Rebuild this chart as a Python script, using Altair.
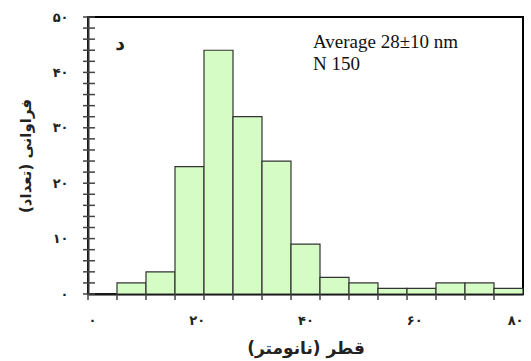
import altair as alt
import pandas as pd

# ---- data ----
bin_index = list(range(1, 16))
counts = [0, 2, 4, 23, 44, 32, 24, 9, 3, 2, 1, 1, 2, 2, 1]
x_tick_values = [0, 20, 40, 60, 80]
x_tick_labels = ["۰", "۲۰", "۴۰", "۶۰", "۸۰"]
y_major_values = [0, 10, 20, 30, 40, 50]
y_major_labels = ["۰", "۱۰", "۲۰", "۳۰", "۴۰", "۵۰"]
y_minor_values = list(range(0, 51, 2))
x_title = "قطر (نانومتر)"
y_title = "فراوانی (تعداد)"
panel_letter = "د"
stats_line1 = "Average 28±10 nm"
stats_line2 = "N 150"

FA_FONT = "DejaVu Sans"
W, H = 435, 277
TICK_COLOR = "#444444"


def label_expr(values, labels):
    expr = "''"
    for v, l in reversed(list(zip(values, labels))):
        expr = f"datum.value == {v} ? '{l}' : ({expr})"
    return expr


bars_df = pd.DataFrame({"bin": bin_index, "count": counts})
xlab_df = pd.DataFrame({"d": x_tick_values})
ytick_df = pd.DataFrame({"v": y_minor_values})

y_scale = alt.Scale(domain=[0, 50], nice=False, zero=True)
band_scale = alt.Scale(type="band", paddingInner=0, paddingOuter=0)


def make_y_axis():
    return alt.Axis(
        orient="left", values=y_major_values,
        labelExpr=label_expr(y_major_values, y_major_labels),
        ticks=False, labelPadding=20, labelFont=FA_FONT,
        labelFontSize=13, labelFontWeight="bold", labelColor="#222222",
        domainColor="#333333", domainWidth=2, grid=False,
        title=y_title, titleX=-63, titleY=H / 2, titleAngle=-90,
        titleAlign="center", titleBaseline="middle",
        titleFont=FA_FONT, titleFontSize=15, titleFontWeight="bold",
        titleColor="#222222",
    )


bars = alt.Chart(bars_df).mark_bar(
    fill="#d4fcc4", stroke="#333333", strokeWidth=1.2
).encode(
    x=alt.X(
        "bin:O",
        scale=band_scale,
        axis=alt.Axis(
            orient="bottom", labels=False, ticks=False, title=None,
            domainColor="black", domainWidth=2, grid=False,
        ),
    ),
    y=alt.Y("count:Q", scale=y_scale, axis=make_y_axis()),
)

# axis tick marks crossing the y axis (every 2 units)
yticks = alt.Chart(ytick_df).mark_rule(color=TICK_COLOR, strokeWidth=1.5).encode(
    y=alt.Y("v:Q", scale=y_scale, axis=make_y_axis()),
    x=alt.value(-5),
    x2=alt.value(7),
)

# tick marks below the x axis at the bin edges
xticks = alt.Chart(bars_df).mark_rule(color=TICK_COLOR, strokeWidth=1.5).encode(
    x=alt.X("bin:O", scale=band_scale, bandPosition=0, axis=None),
    y=alt.value(H),
    y2=alt.value(H + 6),
)

xlabels = alt.Chart(xlab_df).mark_point(opacity=0).encode(
    x=alt.X(
        "d:Q",
        scale=alt.Scale(domain=[0, 80], nice=False),
        axis=alt.Axis(
            orient="bottom", values=x_tick_values,
            labelExpr=label_expr(x_tick_values, x_tick_labels),
            ticks=False, domain=False, labelPadding=20,
            labelFont=FA_FONT, labelFontSize=13, labelFontWeight="bold",
            labelColor="#222222", grid=False,
            title=x_title, titleX=W / 2, titleY=54, titleAlign="center",
            titleBaseline="middle", titleFont=FA_FONT, titleFontSize=17,
            titleFontWeight="bold", titleColor="#222222",
        ),
    )
)

letter = alt.Chart(pd.DataFrame({"t": [panel_letter]})).mark_text(
    font=FA_FONT, fontSize=19, fontWeight="bold", color="#222222",
    align="center", baseline="middle",
).encode(text="t:N", x=alt.value(32), y=alt.value(27))

stat1 = alt.Chart(pd.DataFrame({"t": [stats_line1]})).mark_text(
    font="Liberation Serif", fontSize=19, color="#111111",
    align="left", baseline="alphabetic",
).encode(text="t:N", x=alt.value(225), y=alt.value(31))

stat2 = alt.Chart(pd.DataFrame({"t": [stats_line2]})).mark_text(
    font="Liberation Serif", fontSize=19, color="#111111",
    align="left", baseline="alphabetic",
).encode(text="t:N", x=alt.value(225), y=alt.value(53))

chart = (
    alt.layer(bars, xticks, yticks, xlabels, letter, stat1, stat2)
    .resolve_scale(x="independent")
    .resolve_axis(x="independent")
    .properties(
        width=W, height=H,
        autosize=alt.AutoSizeParams(type="none"),
        padding={"left": 88, "top": 17, "right": 8, "bottom": 67},
        background="white",
    )
    .configure_view(stroke="black", strokeWidth=2)
)

chart.save("out.html", embed_options={"renderer": "svg", "actions": False})
